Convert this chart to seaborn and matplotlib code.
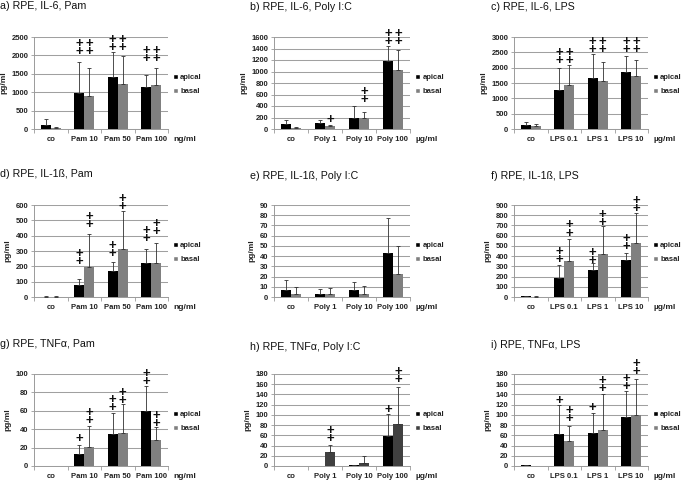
import numpy as np
import pandas as pd
import matplotlib
matplotlib.use("Agg")
import matplotlib.pyplot as plt
import seaborn as sns
from matplotlib.patches import Patch

# ---------------- data ----------------
pam_cats = ["co", "Pam 10", "Pam 50", "Pam 100"]
poly_cats = ["co", "Poly 1", "Poly 10", "Poly 100"]
lps_cats = ["co", "LPS 0.1", "LPS 1", "LPS 10"]
series = ["apical", "basal"]

# a) IL-6, Pam
a_apical = [110, 990, 1420, 1130]
a_apical_sd = [150, 840, 660, 350]
a_basal = [30, 905, 1230, 1195]
a_basal_sd = [20, 765, 745, 455]
a_apical_sig = [0, 2, 2, 2]
a_apical_sig_y = [0, 2113, 2203, 1915]
a_basal_sig = [0, 2, 2, 2]
a_basal_sig_y = [0, 2113, 2203, 1915]

# b) IL-6, Poly I:C
b_apical = [85, 100, 195, 1175]
b_apical_sd = [63, 65, 209, 260]
b_basal = [20, 57, 190, 1025]
b_basal_sd = [10, 18, 112, 353]
b_apical_sig = [0, 0, 0, 2]
b_apical_sig_y = [0, 0, 0, 1526]
b_basal_sig = [0, 1, 2, 2]
b_basal_sig_y = [0, 160, 512, 1526]

# c) IL-6, LPS
c_apical = [129, 1286, 1650, 1843]
c_apical_sd = [107, 707, 782, 546]
c_basal = [86, 1425, 1575, 1714]
c_basal_sd = [75, 654, 611, 536]
c_apical_sig = [0, 2, 2, 2]
c_apical_sig_y = [0, 2229, 2593, 2593]
c_basal_sig = [0, 2, 2, 2]
c_basal_sig_y = [0, 2229, 2593, 2593]

# d) IL-1ß, Pam
d_apical = [3, 77, 171, 225]
d_apical_sd = [3, 43, 57, 88]
d_basal = [3, 197, 311, 222]
d_basal_sd = [3, 212, 249, 131]
d_apical_sig = [0, 2, 2, 2]
d_apical_sig_y = [0, 232, 280, 379]
d_basal_sig = [0, 2, 2, 2]
d_basal_sig_y = [0, 471, 589, 427]

# e) IL-1ß, Poly I:C
e_apical = [6.8, 2.5, 6.5, 43]
e_apical_sd = [10.2, 5, 7.8, 34]
e_basal = [3.3, 3, 3, 22.5]
e_basal_sd = [6.5, 6, 7.5, 27.1]
e_apical_sig = [0, 0, 0, 0]
e_apical_sig_y = [0, 0, 0, 0]
e_basal_sig = [0, 0, 0, 0]
e_basal_sig_y = [0, 0, 0, 0]

# f) IL-1ß, LPS
f_apical = [8, 185, 265, 359]
f_apical_sd = [4, 132, 65, 68]
f_basal = [4, 353, 421, 531]
f_basal_sd = [2, 217, 278, 295]
f_apical_sig = [0, 2, 2, 2]
f_apical_sig_y = [0, 366, 353, 495]
f_basal_sig = [0, 2, 2, 2]
f_basal_sig_y = [0, 625, 732, 861]

# g) TNFα, Pam
g_apical = [0.5, 12.7, 35.3, 59.6]
g_apical_sd = [0, 10.2, 22.2, 27.4]
g_basal = [0, 21, 36.4, 28.4]
g_basal_sd = [0, 22.6, 30.6, 14.1]
g_apical_sig = [0, 1, 2, 2]
g_apical_sig_y = [0, 29.5, 63.6, 91.6]
g_basal_sig = [0, 2, 2, 2]
g_basal_sig_y = [0, 49.1, 70.9, 46.5]

# h) TNFα, Poly I:C
h_apical = [0, 0, 1.5, 58]
h_apical_sd = [0, 0, 1, 43]
h_basal = [0, 28, 5.9, 82.8]
h_basal_sd = [0, 13.7, 14.3, 72.2]
h_apical_sig = [0, 0, 0, 1]
h_apical_sig_y = [0, 0, 0, 109.6]
h_basal_sig = [0, 2, 0, 2]
h_basal_sig_y = [0, 52.8, 0, 169.6]

# i) TNFα, LPS
i_apical = [1, 63.3, 64, 95]
i_apical_sd = [0.5, 55.4, 40, 52]
i_basal = [0.5, 48.3, 71, 99]
i_basal_sd = [0, 30, 69, 71]
i_apical_sig = [0, 1, 1, 2]
i_apical_sig_y = [0, 127, 113, 155]
i_basal_sig = [0, 2, 2, 2]
i_basal_sig_y = [0, 92.6, 152, 184.6]

titles = ["a) RPE, IL-6, Pam", "b) RPE, IL-6, Poly I:C", "c) RPE, IL-6, LPS",
          "d) RPE, IL-1ß, Pam", "e) RPE, IL-1ß, Poly I:C", "f) RPE, IL-1ß, LPS",
          "g) RPE, TNFα, Pam", "h) RPE, TNFα, Poly I:C", "i) RPE, TNFα, LPS"]
units = ["ng/ml", "µg/ml", "µg/ml"] * 3

panels = [
    (pam_cats, a_apical, a_apical_sd, a_basal, a_basal_sd, a_apical_sig, a_apical_sig_y, a_basal_sig, a_basal_sig_y),
    (poly_cats, b_apical, b_apical_sd, b_basal, b_basal_sd, b_apical_sig, b_apical_sig_y, b_basal_sig, b_basal_sig_y),
    (lps_cats, c_apical, c_apical_sd, c_basal, c_basal_sd, c_apical_sig, c_apical_sig_y, c_basal_sig, c_basal_sig_y),
    (pam_cats, d_apical, d_apical_sd, d_basal, d_basal_sd, d_apical_sig, d_apical_sig_y, d_basal_sig, d_basal_sig_y),
    (poly_cats, e_apical, e_apical_sd, e_basal, e_basal_sd, e_apical_sig, e_apical_sig_y, e_basal_sig, e_basal_sig_y),
    (lps_cats, f_apical, f_apical_sd, f_basal, f_basal_sd, f_apical_sig, f_apical_sig_y, f_basal_sig, f_basal_sig_y),
    (pam_cats, g_apical, g_apical_sd, g_basal, g_basal_sd, g_apical_sig, g_apical_sig_y, g_basal_sig, g_basal_sig_y),
    (poly_cats, h_apical, h_apical_sd, h_basal, h_basal_sd, h_apical_sig, h_apical_sig_y, h_basal_sig, h_basal_sig_y),
    (lps_cats, i_apical, i_apical_sd, i_basal, i_basal_sd, i_apical_sig, i_apical_sig_y, i_basal_sig, i_basal_sig_y),
]

# ---------------- layout / style ----------------
y_limits = [(2500, 500), (1600, 200), (3000, 500),
            (600, 100), (90, 10), (900, 100),
            (100, 20), (180, 20), (180, 20)]
basal_colors = ["#808080"] * 7 + ["#404040", "#808080"]

W, H = 684, 483
col_px = [(34, 134), (274, 136), (514, 134)]
row_top = [37, 205, 374]
ax_h = 92
title_pos = [(0, 6), (250, 7.5), (491, 7.5),
             (0, 174), (250, 176), (491, 176),
             (0, 344), (250, 347), (491, 345)]

sns.set_theme(style="white")
plt.rcParams["font.family"] = ["Liberation Sans", "DejaVu Sans"]

fig = plt.figure(figsize=(W / 100, H / 100), dpi=100)
spine_c = "#9a9a9a"
txt_c = "#222222"
plus_step = 5.2  # points between stacked "+" marks

for idx, p in enumerate(panels):
    cats, ap, ap_sd, bs, bs_sd, ap_sig, ap_sig_y, bs_sig, bs_sig_y = p
    r, c = divmod(idx, 3)
    x0, w = col_px[c]
    top = row_top[r]
    ax = fig.add_axes([x0 / W, 1 - (top + ax_h) / H, w / W, ax_h / H])

    df = pd.DataFrame({
        "cond": list(cats) * 2,
        "side": [series[0]] * len(cats) + [series[1]] * len(cats),
        "val": list(ap) + list(bs),
    })
    sns.barplot(data=df, x="cond", y="val", hue="side", order=cats, hue_order=series,
                palette={"apical": "#000000", "basal": basal_colors[idx]},
                width=0.6, saturation=1, errorbar=None, legend=False, ax=ax,
                edgecolor="none", linewidth=0)

    bar_conts = [list(cont) for cont in ax.containers]
    sds = [ap_sd, bs_sd]
    sigs = [ap_sig, bs_sig]
    sig_ys = [ap_sig_y, bs_sig_y]
    for k, bars in enumerate(bar_conts):
        for j, bar in enumerate(bars):
            xc = bar.get_x() + bar.get_width() / 2
            hgt = bar.get_height()
            sd = sds[k][j]
            if sd > 0:
                ax.errorbar(xc, hgt, yerr=[[0], [sd]], fmt="none", ecolor="#303030",
                            elinewidth=0.6, capsize=1.6, capthick=0.6, zorder=3)
            n = sigs[k][j]
            if n > 0:
                ax.annotate("\n".join(["+"] * n), (xc, sig_ys[k][j]),
                            xytext=(0, (n - 1) * plus_step / 2),
                            textcoords="offset points", ha="center", va="center",
                            fontsize=9.5, fontweight="bold", color="#111111",
                            linespacing=0.56, annotation_clip=False, zorder=4)

    ymax, step = y_limits[idx]
    ax.set_xlim(-0.5, len(cats) - 0.5)
    ax.set_ylim(0, ymax)
    ax.set_yticks(np.arange(0, ymax + step / 2, step))
    ax.yaxis.grid(True, color="#a0a0a0", linewidth=0.75)
    ax.xaxis.grid(False)
    ax.set_axisbelow(True)
    for s in ["top", "right"]:
        ax.spines[s].set_visible(False)
    for s in ["left", "bottom"]:
        ax.spines[s].set_color(spine_c)
        ax.spines[s].set_linewidth(0.7)
    ax.tick_params(axis="y", which="major", left=True, length=2, width=0.6, color=spine_c,
                   labelsize=5.5, pad=2, labelcolor=txt_c)
    ax.tick_params(axis="x", which="major", bottom=False, length=0, labelsize=5.5, pad=5,
                   labelcolor=txt_c)
    ax.set_xticks(np.arange(-0.5, len(cats), 1), minor=True)
    ax.tick_params(axis="x", which="minor", bottom=True, length=3, width=0.6, color=spine_c)
    for lab in ax.get_xticklabels() + ax.get_yticklabels():
        lab.set_fontweight("bold")
    ax.set_xlabel("")
    ax.set_ylabel("pg/ml", fontsize=6, fontweight="bold", color=txt_c, labelpad=3)

    handles = [Patch(facecolor="#000000"), Patch(facecolor=basal_colors[idx])]
    ax.legend(handles, series, loc="center left", bbox_to_anchor=(1.04, 0.48),
              frameon=False, prop={"size": 5.5, "weight": "bold"}, handlelength=0.6,
              handleheight=0.6, handletextpad=0.3, labelspacing=0.9,
              borderaxespad=0, borderpad=0, labelcolor=txt_c)

    ax.text(1.04, -0.11, units[idx], transform=ax.transAxes, fontsize=6,
            fontweight="bold", va="center", ha="left", color=txt_c)

    tx, ty = title_pos[idx]
    fig.text(tx / W, 1 - ty / H, titles[idx], fontsize=7.7, va="center", ha="left",
             color="#111111")

fig.savefig("out.png", dpi=100)
